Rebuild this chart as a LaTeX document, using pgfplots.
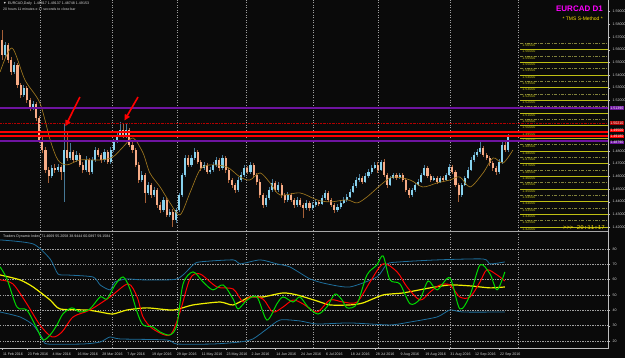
\documentclass[border=0pt]{standalone}
\usepackage{fontspec}
\setmainfont{Liberation Sans}
\newfontfamily\monof{Liberation Mono}
\usepackage{pgfplots}
\usepackage{pgfplotstable}
\pgfplotsset{compat=1.18}
\usetikzlibrary{arrows.meta}
\pgfplotsset{/pgf/number format/assume math mode=true}
\definecolor{bg}{RGB}{10,10,10}
\definecolor{bullbody}{RGB}{135,210,238}
\definecolor{bearbody}{RGB}{247,172,135}
\definecolor{bullwick}{RGB}{70,120,150}
\definecolor{bearwick}{RGB}{165,95,55}
\definecolor{maline}{RGB}{160,120,30}
\definecolor{gridc}{RGB}{160,160,160}
\definecolor{band}{RGB}{30,110,155}
\definecolor{tdiyellow}{RGB}{240,240,0}
\definecolor{lvlsolid}{RGB}{190,190,20}
\definecolor{lvldash}{RGB}{130,130,60}
\definecolor{purp}{RGB}{110,20,160}
\definecolor{mag}{RGB}{255,0,255}
\definecolor{txt}{RGB}{215,215,215}
\definecolor{axc}{RGB}{190,190,190}
\newcommand\tf{\fontsize{3.6}{4}\selectfont}

\pgfplotstableread{
i o h l c
0 1.5676 1.5755 1.5520 1.5558
1 1.5558 1.5660 1.5530 1.5637
2 1.5637 1.5655 1.5495 1.5518
3 1.5518 1.5540 1.5400 1.5424
4 1.5424 1.5500 1.5405 1.5479
5 1.5479 1.5495 1.5300 1.5321
6 1.5321 1.5340 1.5220 1.5242
7 1.5242 1.5320 1.5225 1.5297
8 1.5297 1.5315 1.5180 1.5203
9 1.5203 1.5220 1.5115 1.5139
10 1.5139 1.5195 1.5120 1.5171
11 1.5171 1.5190 1.5040 1.5061
12 1.5061 1.5080 1.4865 1.4887
13 1.4887 1.4910 1.4785 1.4808
14 1.4808 1.4830 1.4625 1.4650
15 1.4650 1.4670 1.4548 1.4603
16 1.4603 1.4690 1.4590 1.4666
17 1.4666 1.4700 1.4630 1.4650
18 1.4650 1.4695 1.4635 1.4674
19 1.4674 1.4690 1.4571 1.4634
20 1.4634 1.5021 1.4398 1.4808
21 1.4808 1.4942 1.4720 1.4745
22 1.4745 1.4863 1.4730 1.4792
23 1.4792 1.4810 1.4710 1.4729
24 1.4729 1.4800 1.4715 1.4769
25 1.4769 1.4785 1.4670 1.4690
26 1.4690 1.4710 1.4625 1.4650
27 1.4650 1.4760 1.4635 1.4729
28 1.4729 1.4745 1.4610 1.4634
29 1.4634 1.4750 1.4620 1.4729
30 1.4729 1.4835 1.4715 1.4808
31 1.4808 1.4825 1.4750 1.4769
32 1.4769 1.4785 1.4705 1.4729
33 1.4729 1.4815 1.4715 1.4792
34 1.4792 1.4810 1.4695 1.4713
35 1.4713 1.4830 1.4700 1.4808
36 1.4808 1.4895 1.4795 1.4871
37 1.4871 1.4950 1.4860 1.4926
38 1.4926 1.5029 1.4910 1.4966
39 1.4966 1.5021 1.4900 1.4918
40 1.4918 1.5013 1.4905 1.4966
41 1.4966 1.4985 1.4830 1.4848
42 1.4848 1.4870 1.4785 1.4808
43 1.4808 1.4825 1.4670 1.4690
44 1.4690 1.4710 1.4550 1.4571
45 1.4571 1.4640 1.4555 1.4611
46 1.4611 1.4630 1.4390 1.4469
47 1.4469 1.4555 1.4450 1.4532
48 1.4532 1.4550 1.4430 1.4453
49 1.4453 1.4515 1.4435 1.4493
50 1.4493 1.4510 1.4350 1.4374
51 1.4374 1.4395 1.4310 1.4335
52 1.4335 1.4435 1.4320 1.4414
53 1.4414 1.4430 1.4275 1.4295
54 1.4295 1.4345 1.4275 1.4319
55 1.4319 1.4340 1.4200 1.4256
56 1.4256 1.4350 1.4235 1.4335
57 1.4335 1.4470 1.4320 1.4453
58 1.4453 1.4630 1.4440 1.4611
59 1.4611 1.4770 1.4595 1.4745
60 1.4745 1.4765 1.4670 1.4690
61 1.4690 1.4770 1.4675 1.4745
62 1.4745 1.4824 1.4730 1.4792
63 1.4792 1.4810 1.4695 1.4713
64 1.4713 1.4730 1.4645 1.4666
65 1.4666 1.4715 1.4650 1.4690
66 1.4690 1.4705 1.4615 1.4634
67 1.4634 1.4675 1.4620 1.4650
68 1.4650 1.4710 1.4635 1.4690
69 1.4690 1.4755 1.4675 1.4729
70 1.4729 1.4745 1.4645 1.4666
71 1.4666 1.4770 1.4650 1.4745
72 1.4745 1.4760 1.4630 1.4650
73 1.4650 1.4665 1.4550 1.4571
74 1.4571 1.4590 1.4510 1.4532
75 1.4532 1.4550 1.4470 1.4493
76 1.4493 1.4595 1.4480 1.4571
77 1.4571 1.4635 1.4555 1.4611
78 1.4611 1.4690 1.4595 1.4666
79 1.4666 1.4685 1.4615 1.4634
80 1.4634 1.4710 1.4620 1.4690
81 1.4690 1.4705 1.4590 1.4611
82 1.4611 1.4630 1.4535 1.4556
83 1.4556 1.4575 1.4430 1.4453
84 1.4453 1.4470 1.4350 1.4374
85 1.4374 1.4450 1.4360 1.4429
86 1.4429 1.4515 1.4415 1.4493
87 1.4493 1.4575 1.4480 1.4548
88 1.4548 1.4565 1.4475 1.4493
89 1.4493 1.4555 1.4478 1.4532
90 1.4532 1.4548 1.4430 1.4453
91 1.4453 1.4470 1.4390 1.4414
92 1.4414 1.4475 1.4400 1.4453
93 1.4453 1.4470 1.4395 1.4414
94 1.4414 1.4430 1.4350 1.4374
95 1.4374 1.4435 1.4360 1.4414
96 1.4414 1.4430 1.4355 1.4374
97 1.4374 1.4390 1.4272 1.4351
98 1.4351 1.4410 1.4335 1.4390
99 1.4390 1.4405 1.4330 1.4351
100 1.4351 1.4395 1.4335 1.4374
101 1.4374 1.4420 1.4360 1.4398
102 1.4398 1.4415 1.4365 1.4382
103 1.4382 1.4450 1.4370 1.4429
104 1.4429 1.4490 1.4415 1.4469
105 1.4469 1.4485 1.4395 1.4414
106 1.4414 1.4430 1.4355 1.4374
107 1.4374 1.4390 1.4310 1.4335
108 1.4335 1.4380 1.4318 1.4358
109 1.4358 1.4410 1.4345 1.4390
110 1.4390 1.4435 1.4378 1.4414
111 1.4414 1.4460 1.4400 1.4437
112 1.4437 1.4500 1.4425 1.4477
113 1.4477 1.4545 1.4465 1.4524
114 1.4524 1.4595 1.4510 1.4571
115 1.4571 1.4615 1.4555 1.4587
116 1.4587 1.4605 1.4540 1.4556
117 1.4556 1.4625 1.4545 1.4603
118 1.4603 1.4655 1.4590 1.4634
119 1.4634 1.4690 1.4620 1.4666
120 1.4666 1.4715 1.4655 1.4690
121 1.4690 1.4710 1.4630 1.4650
122 1.4650 1.4729 1.4640 1.4713
123 1.4713 1.4735 1.4595 1.4611
124 1.4611 1.4625 1.4510 1.4532
125 1.4532 1.4605 1.4520 1.4587
126 1.4587 1.4630 1.4575 1.4611
127 1.4611 1.4625 1.4570 1.4587
128 1.4587 1.4630 1.4575 1.4611
129 1.4611 1.4625 1.4555 1.4571
130 1.4571 1.4585 1.4475 1.4493
131 1.4493 1.4510 1.4430 1.4453
132 1.4453 1.4510 1.4440 1.4493
133 1.4493 1.4550 1.4480 1.4532
134 1.4532 1.4575 1.4520 1.4556
135 1.4556 1.4630 1.4545 1.4611
136 1.4611 1.4690 1.4600 1.4666
137 1.4666 1.4680 1.4585 1.4603
138 1.4603 1.4620 1.4555 1.4571
139 1.4571 1.4605 1.4560 1.4587
140 1.4587 1.4600 1.4540 1.4556
141 1.4556 1.4605 1.4545 1.4587
142 1.4587 1.4600 1.4555 1.4571
143 1.4571 1.4630 1.4560 1.4611
144 1.4611 1.4700 1.4600 1.4674
145 1.4674 1.4690 1.4620 1.4634
146 1.4634 1.4650 1.4515 1.4532
147 1.4532 1.4550 1.4398 1.4453
148 1.4453 1.4550 1.4440 1.4532
149 1.4532 1.4605 1.4520 1.4587
150 1.4587 1.4670 1.4575 1.4650
151 1.4650 1.4750 1.4640 1.4729
152 1.4729 1.4790 1.4715 1.4769
153 1.4769 1.4815 1.4755 1.4792
154 1.4792 1.4871 1.4780 1.4824
155 1.4824 1.4840 1.4750 1.4769
156 1.4769 1.4785 1.4725 1.4745
157 1.4745 1.4760 1.4685 1.4705
158 1.4705 1.4720 1.4645 1.4666
159 1.4666 1.4680 1.4610 1.4634
160 1.4634 1.4735 1.4620 1.4713
161 1.4713 1.4870 1.4700 1.4848
162 1.4848 1.4880 1.4790 1.4808
163 1.4808 1.4935 1.4795 1.4915
}\candles

\begin{document}
\begin{tikzpicture}[x=1pt,y=1pt]
\fill[bg] (0,0) rectangle (625,358);
\path[use as bounding box] (0,0) rectangle (625,358);

% ---------------- price panel
\begin{axis}[
  at={(0pt,127pt)}, anchor=south west, scale only axis,
  width=608pt, height=231pt,
  xmin=-0.644, xmax=195.1, ymin=1.41684, ymax=1.59916,
  axis line style={draw=none},
  xtick pos=left, ytick pos=right, yticklabel pos=right,
  xtick=\empty,
  extra x ticks={12.2,35.4,56.3,78.6,100.1,121.1,144.2,166.1},
  extra x tick labels={},
  extra x tick style={grid=major, major tick length=0pt},
  major grid style={draw=gridc, dash pattern=on 1.2pt off 1.3pt, line width=0.55pt},
  ytick={1.42,1.43,1.44,1.45,1.46,1.47,1.48,1.52,1.53,1.54,1.55,1.56,1.57,1.58,1.59},
  yticklabel={\pgfmathprintnumber[fixed,fixed zerofill,precision=5]{\tick}},
  yticklabel style={font=\tf, text=txt, anchor=west, xshift=-1pt},
  y tick style={draw=axc}, major tick length=2pt, tick align=outside,
  clip=false,
]
% wicks
\addplot[draw=none, mark=none, forget plot,
  restrict expr to domain={\thisrow{c}-\thisrow{o}}{0:1},
  error bars/.cd, y dir=both, y explicit, error mark=none,
  error bar style={draw=bullwick, line width=0.7pt, solid}]
  table[x=i, y expr={(\thisrow{h}+\thisrow{l})/2}, y error expr={(\thisrow{h}-\thisrow{l})/2}] {\candles};
\addplot[draw=none, mark=none, forget plot,
  restrict expr to domain={\thisrow{c}-\thisrow{o}}{-1:0},
  error bars/.cd, y dir=both, y explicit, error mark=none,
  error bar style={draw=bearwick, line width=0.7pt, solid}]
  table[x=i, y expr={(\thisrow{h}+\thisrow{l})/2}, y error expr={(\thisrow{h}-\thisrow{l})/2}] {\candles};
% bodies
\addplot[draw=none, mark=none, forget plot,
  restrict expr to domain={\thisrow{c}-\thisrow{o}}{0:1},
  error bars/.cd, y dir=both, y explicit, error mark=none,
  error bar style={draw=bullbody, line width=2.1pt, solid}]
  table[x=i, y expr={(\thisrow{o}+\thisrow{c})/2}, y error expr={abs(\thisrow{c}-\thisrow{o})/2+0.0002}] {\candles};
\addplot[draw=none, mark=none, forget plot,
  restrict expr to domain={\thisrow{c}-\thisrow{o}}{-1:0},
  error bars/.cd, y dir=both, y explicit, error mark=none,
  error bar style={draw=bearbody, line width=2.1pt, solid}]
  table[x=i, y expr={(\thisrow{o}+\thisrow{c})/2}, y error expr={abs(\thisrow{c}-\thisrow{o})/2+0.0002}] {\candles};
% moving average
\addplot[maline, line width=0.65pt, smooth, tension=0.5, mark=none] coordinates {
(-0.6,1.5424) (3.2,1.5613) (7.4,1.5360) (12.2,1.5179) (15.5,1.4887) (18.0,1.4729)
(20.9,1.4690) (25.1,1.4729) (31.6,1.4729) (35.7,1.4753) (39.0,1.4832) (42.2,1.4903)
(45.4,1.4784) (47.6,1.4627) (50.9,1.4516) (54.1,1.4390) (57.3,1.4295) (60.5,1.4469)
(63.7,1.4650) (67.0,1.4690) (72.4,1.4674) (76.6,1.4595) (79.8,1.4571) (83.1,1.4627)
(86.3,1.4548) (89.5,1.4453) (95.9,1.4469) (101.4,1.4414) (105.6,1.4398) (111.1,1.4414)
(114.3,1.4390) (117.5,1.4437) (122.7,1.4548) (125.9,1.4595) (131.4,1.4571) (135.5,1.4516)
(140.1,1.4548) (144.2,1.4571) (147.4,1.4595) (150.7,1.4516) (154.9,1.4627) (158.1,1.4745)
(161.3,1.4705) (164.5,1.4808)};
% level lines (right area)
\pgfplotsinvokeforeach{1.42000,1.43000,1.44000,1.45000,1.46000,1.47000,1.48000,1.49000,1.50000,1.51000,1.52000,1.53000,1.54000,1.55000,1.56000}{
  \draw[lvlsolid, line width=0.8pt] (axis cs:166.8,#1) -- (axis cs:195.1,#1);
  \node[anchor=north west, inner sep=0.4pt, font=\tf, text=lvlsolid] at (axis cs:167.3,#1) {#1};
}
\pgfplotsinvokeforeach{1.42500,1.43500,1.44500,1.45500,1.46500,1.47500,1.48500,1.49500,1.50500,1.51500,1.52500,1.53500,1.54500,1.55500,1.56500}{
  \draw[lvldash, line width=0.7pt, dash pattern=on 3pt off 1.5pt on 0.8pt off 1.5pt] (axis cs:166.8,#1) -- (axis cs:195.1,#1);
  \node[anchor=north west, inner sep=0.4pt, font=\tf, text=lvlsolid] at (axis cs:167.3,#1) {#1};
}
% full-width lines
\addplot[purp, line width=1.3pt, forget plot] coordinates {(-0.644,1.5139) (195.1,1.5139)};
\addplot[purp, line width=1.3pt, forget plot] coordinates {(-0.644,1.4879) (195.1,1.4879)};
\addplot[red!70!black, line width=0.6pt, dash pattern=on 2pt off 1pt on 0.5pt off 1pt, forget plot] coordinates {(-0.644,1.5021) (195.1,1.5021)};
\addplot[red, line width=1.2pt, forget plot] coordinates {(-0.644,1.4950) (195.1,1.4950)};
\addplot[red, line width=1.2pt, forget plot] coordinates {(-0.644,1.4918) (195.1,1.4918)};
% price boxes
\node[fill=purp, text=white, font=\tf, inner sep=0.5pt, anchor=west] at (axis cs:195.6,1.5139) {1.51390};
\node[fill=red!70!black, text=white, font=\tf, inner sep=0.5pt, anchor=west] at (axis cs:195.6,1.5021) {1.50210};
\node[fill=red, text=white, font=\tf, inner sep=0.5pt, anchor=west] at (axis cs:195.6,1.4963) {1.49500};
\node[fill=red, text=white, font=\tf, inner sep=0.5pt, anchor=west] at (axis cs:195.6,1.4915) {1.49180};
\node[fill=purp, text=white, font=\tf, inner sep=0.5pt, anchor=west] at (axis cs:195.6,1.4868) {1.48790};
% arrows
\draw[red, line width=1.6pt, -{Triangle[length=6pt,width=5.5pt]}] (axis cs:25.1,1.5226) -- (axis cs:20.4,1.4995);
\draw[red, line width=1.6pt, -{Triangle[length=6pt,width=5.5pt]}] (axis cs:43.8,1.5226) -- (axis cs:39.4,1.5040);
\end{axis}

% ---------------- TDI panel
\begin{axis}[
  at={(0pt,10pt)}, anchor=south west, scale only axis,
  width=608pt, height=115pt,
  xmin=-0.644, xmax=195.1, ymin=15.5, ymax=90.3,
  axis line style={draw=none},
  xtick pos=left, ytick pos=right, yticklabel pos=right, xticklabel pos=left,
  xtick={0,8,...,160},
  xticklabels={11 Feb 2016,23 Feb 2016,4 Mar 2016,16 Mar 2016,28 Mar 2016,7 Apr 2016,19 Apr 2016,29 Apr 2016,11 May 2016,23 May 2016,2 Jun 2016,14 Jun 2016,24 Jun 2016,6 Jul 2016,18 Jul 2016,28 Jul 2016,9 Aug 2016,19 Aug 2016,31 Aug 2016,12 Sep 2016,22 Sep 2016},
  xticklabel style={font=\tf, text=txt, anchor=north west, xshift=-2.5pt, yshift=0.5pt},
  extra x ticks={12.2,35.4,56.3,78.6,100.1,121.1,144.2,166.1},
  extra x tick labels={},
  extra x tick style={grid=major, major tick length=0pt},
  ytick={20,30,40,50,60,70,80},
  ymajorgrids,
  major grid style={draw=gridc, dash pattern=on 1.2pt off 1.3pt, line width=0.55pt},
  yticklabel style={font=\tf, text=txt, anchor=west, xshift=-1pt},
  tick style={draw=axc}, major tick length=2pt, tick align=outside,
  clip=false,
]
\addplot[band, line width=0.8pt, smooth, tension=0.4] coordinates {
(-0.6,85.8) (10.0,83.2) (15.5,73.4) (18.0,63.7) (20.9,63.0) (29.3,61.7) (31.6,56.5)
(34.8,53.3) (36.4,58.5) (40.2,60.4) (45.4,59.8) (56.3,60.4) (61.5,69.5) (63.7,71.5)
(74.4,72.8) (76.6,70.2) (83.1,72.8) (88.5,70.2) (92.7,68.2) (99.2,60.4) (104.6,57.2)
(112.0,55.2) (120.7,61.7) (124.0,70.2) (128.1,71.5) (140.1,72.8) (154.9,73.4)
(157.1,70.2) (161.9,71.5)};
\addplot[band, line width=0.8pt, smooth, tension=0.4] coordinates {
(-0.6,38.9) (5.8,35.7) (10.0,30.5) (13.2,21.4) (14.5,18.1) (26.1,18.1) (31.6,19.4)
(34.8,22.7) (38.0,21.4) (53.1,20.7) (56.3,18.1) (67.9,18.1) (76.6,19.4) (80.8,21.4)
(85.3,27.9) (89.5,33.7) (95.9,33.1) (101.4,31.1) (112.0,31.8) (124.9,30.5) (131.4,32.4)
(140.1,35.7) (144.2,40.2) (148.4,38.9) (161.9,38.9)};
\addplot[tdiyellow, line width=1.2pt, smooth, tension=0.4] coordinates {
(-0.6,63.0) (5.8,59.8) (10.0,55.2) (15.5,46.7) (18.7,40.9) (27.4,40.2) (31.6,38.9)
(35.7,37.6) (40.2,40.2) (46.7,41.6) (55.1,40.2) (61.5,43.5) (70.2,45.4) (74.4,43.5)
(79.8,48.7) (84.0,48.7) (90.5,51.3) (95.0,50.0) (101.4,46.1) (105.6,43.5) (112.0,43.5)
(116.2,44.8) (122.7,50.0) (129.1,51.3) (137.8,54.6) (144.2,56.5) (150.7,55.9)
(157.1,54.6) (161.9,55.2)};
\addplot[red, line width=1.0pt, smooth, tension=0.5] coordinates {
(-0.6,59.8) (3.5,57.2) (8.0,44.2) (12.2,30.5) (16.1,22.7) (19.3,25.9) (22.9,35.7)
(28.3,40.2) (34.8,48.7) (40.6,57.2) (43.5,48.7) (45.4,35.7) (48.6,27.9) (54.1,24.0)
(57.3,38.9) (60.5,60.4) (63.7,63.7) (69.2,55.2) (74.4,53.9) (77.6,45.4) (79.8,48.7)
(84.0,47.4) (87.2,38.9) (90.5,42.2) (93.7,46.7) (96.9,44.2) (101.4,38.9) (105.6,46.7)
(109.8,45.4) (114.3,45.4) (118.5,58.5) (122.7,70.2) (127.2,65.0) (130.4,55.2)
(134.6,46.7) (137.8,51.9) (141.0,56.5) (144.2,56.5) (147.4,48.7) (150.7,48.7)
(153.9,58.5) (156.1,66.3) (159.4,63.0) (161.9,59.1)};
\addplot[green!85!black, line width=1.0pt, smooth, tension=0.5] coordinates {
(-0.6,68.2) (1.6,60.4) (4.8,42.2) (8.0,40.2) (11.3,27.9) (13.2,20.7) (15.5,24.0)
(17.7,30.5) (19.6,37.6) (22.5,41.6) (25.1,38.9) (28.3,40.9) (31.6,48.7) (33.8,47.4)
(36.4,56.5) (39.0,61.7) (41.2,53.9) (43.5,38.9) (45.4,30.5) (48.6,29.2) (50.9,25.9)
(54.1,24.0) (56.3,30.5) (58.3,57.2) (61.5,65.0) (64.7,58.5) (67.9,53.3) (71.2,56.5)
(74.4,47.4) (76.0,40.9) (78.9,46.7) (82.1,48.7) (85.3,33.7) (88.5,44.2) (90.5,48.7)
(93.7,45.4) (95.9,48.7) (98.5,42.2) (101.7,37.6) (104.6,42.2) (107.2,50.6) (109.5,46.7)
(111.1,41.6) (114.3,44.2) (117.5,63.0) (120.7,69.5) (122.7,75.4) (124.9,59.8)
(128.1,57.2) (131.4,44.2) (134.6,47.4) (137.2,59.1) (140.1,53.3) (144.2,61.1)
(147.4,40.9) (150.7,50.0) (153.9,69.5) (157.1,63.7) (159.4,53.3) (161.9,65.0)};
\end{axis}

% frame lines
\draw[axc, line width=0.9pt] (608,358) -- (608,10) -- (0,10);
\draw[gray!70, line width=1.4pt] (0,126.6) -- (608,126.6);
% texts
\node[anchor=north west, font=\tf, text=txt, inner sep=0pt] at (3,356) {▼ EURCAD,Daily\ \ 1.48817 1.49137 1.48748 1.49153};
\node[anchor=north west, font=\fontsize{3.5}{4}\selectfont, text=txt, inner sep=0pt] at (3,350.5) {20 hours 11 minutes e 17 seconds to close bar};
\node[anchor=north west, font=\tf, text=txt, inner sep=0pt] at (3,123.5) {Traders Dynamic Index 71.4669 55.2058 38.9444 60.0897 59.1584};
\node[anchor=north east, font=\fontsize{8}{9}\selectfont\bfseries, text=mag, inner sep=0pt] at (603,352) {EURCAD D1};
\node[anchor=north east, font=\fontsize{5}{6}\selectfont, text=yellow!85!orange, inner sep=0pt] at (603,341) {* TMS S-Method *};
\node[anchor=south east, font=\fontsize{5.8}{6}\selectfont\monof, text=yellow!85!orange, inner sep=0pt] at (605,128) {>{}>{}> 20:11:17};
\end{tikzpicture}
\end{document}
